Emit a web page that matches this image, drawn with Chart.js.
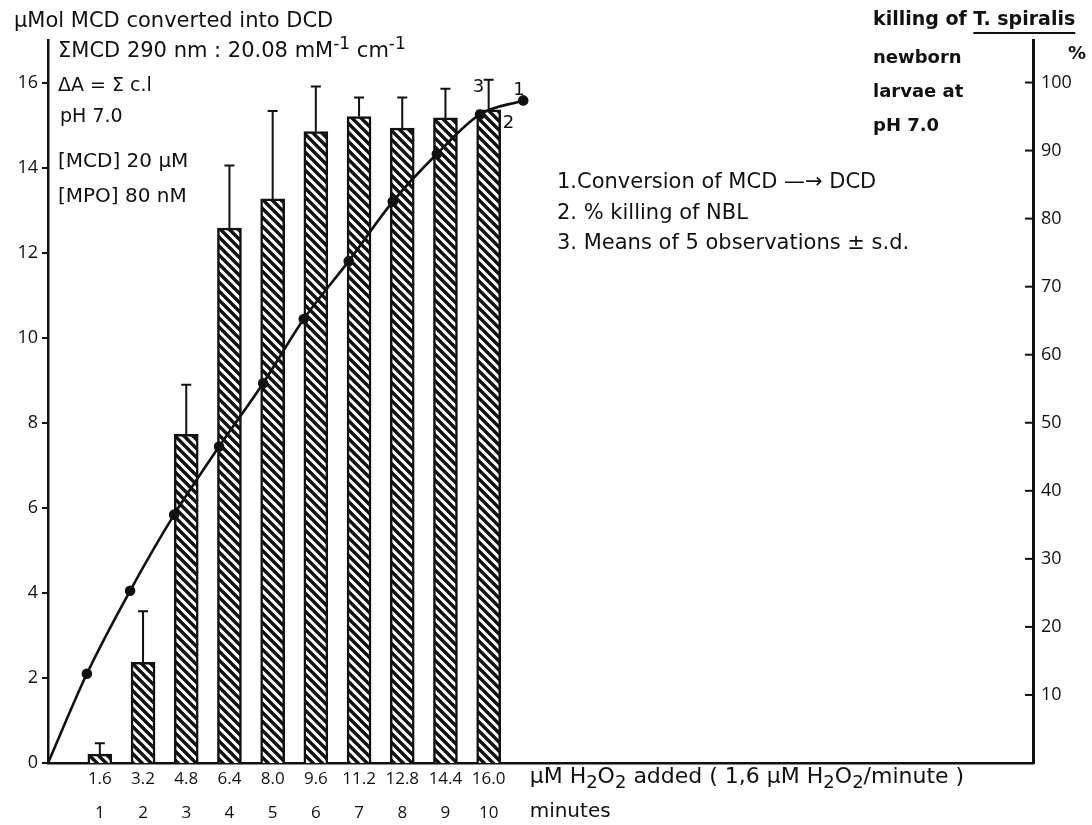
<!DOCTYPE html>
<html>
<head>
<meta charset="utf-8">
<script src="https://cdn.jsdelivr.net/npm/chart.js@4.4.1/dist/chart.umd.min.js"></script>
<style>
  html, body { margin: 0; padding: 0; background: #fff; }
  #wrap { width: 1092px; height: 825px; }
</style>
</head>
<body>
<div id="wrap"><canvas id="chart" width="1092" height="825"></canvas></div>
<script>
// ===== Data =====
const minutes = [1, 2, 3, 4, 5, 6, 7, 8, 9, 10];
const h2o2Labels = ['1.6', '3.2', '4.8', '6.4', '8.0', '9.6', '11.2', '12.8', '14.4', '16.0'];
const minuteLabels = ['1', '2', '3', '4', '5', '6', '7', '8', '9', '10'];

// % killing of NBL (bars, right axis) and s.d. (upper error bar)
const killingMean = [1.3, 14.8, 48.3, 78.6, 82.9, 92.8, 95.0, 93.3, 94.8, 96.0];
const killingSD = [1.6, 7.5, 7.3, 9.2, 12.9, 6.6, 2.8, 4.5, 4.3, 4.4];

// conversion of MCD -> DCD (line, left axis)
const convX = [-0.2, 0.7, 1.7, 2.72, 3.76, 4.78, 5.72, 6.76, 7.78, 8.8, 9.8, 10.8];
const convY = [0, 2.1, 4.05, 5.84, 7.44, 8.93, 10.44, 11.8, 13.2, 14.32, 15.25, 15.58];

const leftTicks = [0, 2, 4, 6, 8, 10, 12, 14, 16];
const rightTicks = [10, 20, 30, 40, 50, 60, 70, 80, 90, 100];

const FONT = '"DejaVu Sans", "Open Sans", sans-serif';
const TICKFONT = '"Open Sans", "DejaVu Sans", sans-serif';
const INK = '#111';

// ===== Hatch pattern =====
function hatch() {
    const s = 9;
    const c = document.createElement('canvas');
    c.width = s; c.height = s;
    const g = c.getContext('2d');
    g.fillStyle = '#fff';
    g.fillRect(0, 0, s, s);
    g.strokeStyle = INK;
    g.lineWidth = 3.4;
    g.beginPath();
    g.moveTo(-2, -2); g.lineTo(s + 2, s + 2);
    g.moveTo(-2, s - 2); g.lineTo(2, s + 2);
    g.moveTo(s - 2, -2); g.lineTo(s + 2, 2);
    g.stroke();
    return g.createPattern(c, 'repeat');
}

// text with sub/superscript parts: [text, 'n' | 'sub' | 'sup']
function richText(ctx, parts, x, y, size) {
    let cx = x;
    parts.forEach(([t, k]) => {
        const fs = k === 'n' ? size : Math.round(size * 0.8);
        const dy = k === 'sub' ? size * 0.3 : k === 'sup' ? -size * 0.35 : 0;
        ctx.font = fs + 'px ' + FONT;
        ctx.fillText(t, cx, y + dy);
        cx += ctx.measureText(t).width;
    });
}

// ===== Plugin: error bars, inner ticks, texts =====
const extras = {
    id: 'extras',
    afterDatasetsDraw(chart) {
        const ctx = chart.ctx;
        const x = chart.scales.x, y2 = chart.scales.y2;
        ctx.save();
        ctx.strokeStyle = INK;
        ctx.lineWidth = 2;
        minutes.forEach((m, i) => {
            const px = x.getPixelForValue(m);
            const top = y2.getPixelForValue(killingMean[i] + killingSD[i]);
            const base = y2.getPixelForValue(killingMean[i]);
            ctx.beginPath();
            ctx.moveTo(px, base); ctx.lineTo(px, top);
            ctx.moveTo(px - 5, top); ctx.lineTo(px + 5, top);
            ctx.stroke();
        });
        // inward ticks of right axis
        const rx = chart.chartArea.right;
        rightTicks.forEach(t => {
            const py = y2.getPixelForValue(t);
            ctx.beginPath();
            ctx.moveTo(rx - 8, py); ctx.lineTo(rx, py);
            ctx.stroke();
        });
        ctx.restore();
    },
    afterDraw(chart) {
        const ctx = chart.ctx;
        const x = chart.scales.x, y = chart.scales.y, y2 = chart.scales.y2;
        ctx.save();
        ctx.fillStyle = INK;
        ctx.strokeStyle = INK;
        ctx.textBaseline = 'middle';
        ctx.textAlign = 'left';

        // top-left block
        ctx.font = '21px ' + FONT;
        ctx.fillText('\u03bcMol MCD converted into DCD', 14, 22);
        richText(ctx, [['\u03a3MCD 290 nm : 20.08 mM', 'n'], ['-1', 'sup'], [' cm', 'n'], ['-1', 'sup']], 58, 52, 21);
        ctx.font = '19px ' + FONT;
        ctx.fillText('\u0394A = \u03a3 c.l', 58, 86);
        ctx.fillText('pH 7.0', 60, 117);
        ctx.font = '20px ' + FONT;
        ctx.fillText('[MCD] 20 \u03bcM', 58, 162);
        ctx.fillText('[MPO] 80 nM', 58, 197);

        // top-right block
        ctx.font = 'bold 19px ' + FONT;
        const t1 = 'killing of ';
        ctx.fillText(t1, 873, 20);
        const w1 = ctx.measureText(t1).width;
        const t2 = 'T. spiralis';
        ctx.fillText(t2, 873 + w1, 20);
        const w2 = ctx.measureText(t2).width;
        ctx.lineWidth = 2;
        ctx.beginPath();
        ctx.moveTo(873 + w1, 33); ctx.lineTo(873 + w1 + w2, 33);
        ctx.stroke();
        ctx.font = 'bold 18px ' + FONT;
        ctx.fillText('newborn', 873, 58);
        ctx.fillText('larvae at', 873, 92);
        ctx.fillText('pH 7.0', 873, 126);
        ctx.fillText('%', 1068, 54);

        // legend
        ctx.font = '21px ' + FONT;
        ctx.fillText('1.Conversion of MCD \u2014\u2192 DCD', 557, 183);
        ctx.fillText('2. % killing of NBL', 557, 214);
        ctx.fillText('3. Means of 5 observations \u00b1 s.d.', 557, 244);

        // number labels at curve end
        const p10 = x.getPixelForValue(10);
        ctx.font = '18px ' + FONT;
        ctx.fillText('3', p10 - 16, y2.getPixelForValue(killingMean[9] + killingSD[9]) + 8);
        ctx.fillText('1', x.getPixelForValue(convX[convX.length - 1]) - 10, y.getPixelForValue(convY[convY.length - 1]) - 10);
        ctx.fillText('2', p10 + 14, y2.getPixelForValue(killingMean[9]) + 14);

        // x-axis titles
        const tx = p10 + 41;
        const ty = chart.chartArea.bottom;
        richText(ctx, [
            ['\u03bcM H', 'n'], ['2', 'sub'], ['O', 'n'], ['2', 'sub'],
            [' added ( 1,6 \u03bcM H', 'n'], ['2', 'sub'], ['O', 'n'], ['2', 'sub'],
            ['/minute )', 'n']
        ], tx, ty + 14, 22);
        ctx.font = '20px ' + FONT;
        ctx.fillText('minutes', tx, ty + 49);
        ctx.restore();
    }
};

// ===== Chart =====
const ctx = document.getElementById('chart').getContext('2d');
new Chart(ctx, {
    data: {
        datasets: [
            {
                type: 'line',
                label: 'Conversion of MCD \u2192 DCD',
                data: convX.map((v, i) => ({ x: v, y: convY[i] })),
                yAxisID: 'y',
                borderColor: INK,
                borderWidth: 2.6,
                backgroundColor: INK,
                pointRadius: convX.map((v, i) => i === 0 ? 0 : 4),
                pointBackgroundColor: INK,
                cubicInterpolationMode: 'monotone',
                order: 0
            },
            {
                type: 'bar',
                label: '% killing of NBL',
                data: minutes.map((m, i) => ({ x: m, y: killingMean[i] })),
                yAxisID: 'y2',
                backgroundColor: hatch(),
                borderColor: INK,
                borderWidth: 2.5,
                borderSkipped: 'bottom',
                barThickness: 24,
                order: 1
            }
        ]
    },
    options: {
        responsive: false,
        animation: false,
        layout: { padding: { top: 40, left: 0, right: 0, bottom: 0 } },
        plugins: {
            legend: { display: false },
            tooltip: { enabled: false }
        },
        scales: {
            x: {
                type: 'linear',
                offset: false,
                min: -0.2,
                max: 22.6,
                afterBuildTicks: s => { s.ticks = minutes.map(v => ({ value: v })); },
                afterFit: s => { s.height = 62; s.paddingLeft = 0; s.paddingRight = 0; },
                grid: { display: false, drawTicks: false, offset: false },
                border: { display: true, color: INK, width: 2.5 },
                ticks: {
                    color: INK,
                    padding: 0,
                    maxRotation: 0,
                    autoSkip: false,
                    font: { family: TICKFONT, size: 17, lineHeight: 1.95 },
                    callback: (v, i) => [h2o2Labels[i], minuteLabels[i]]
                }
            },
            y: {
                position: 'left',
                min: 0,
                max: 17,
                afterBuildTicks: s => { s.ticks = leftTicks.map(v => ({ value: v })); },
                afterFit: s => { s.width = 48; },
                grid: { drawOnChartArea: false, tickLength: 6, color: INK, lineWidth: 2 },
                border: { display: true, color: INK, width: 2.5 },
                ticks: {
                    color: INK,
                    padding: 4,
                    font: { family: TICKFONT, size: 18 }
                }
            },
            y2: {
                position: 'right',
                min: 0,
                max: 106.25,
                afterBuildTicks: s => { s.ticks = rightTicks.map(v => ({ value: v })); },
                afterFit: s => { s.width = 59; },
                grid: { display: false, drawTicks: false },
                border: { display: true, color: INK, width: 3 },
                ticks: {
                    color: INK,
                    padding: 8,
                    font: { family: TICKFONT, size: 18 }
                }
            }
        }
    },
    plugins: [extras]
});
</script>
</body>
</html>
